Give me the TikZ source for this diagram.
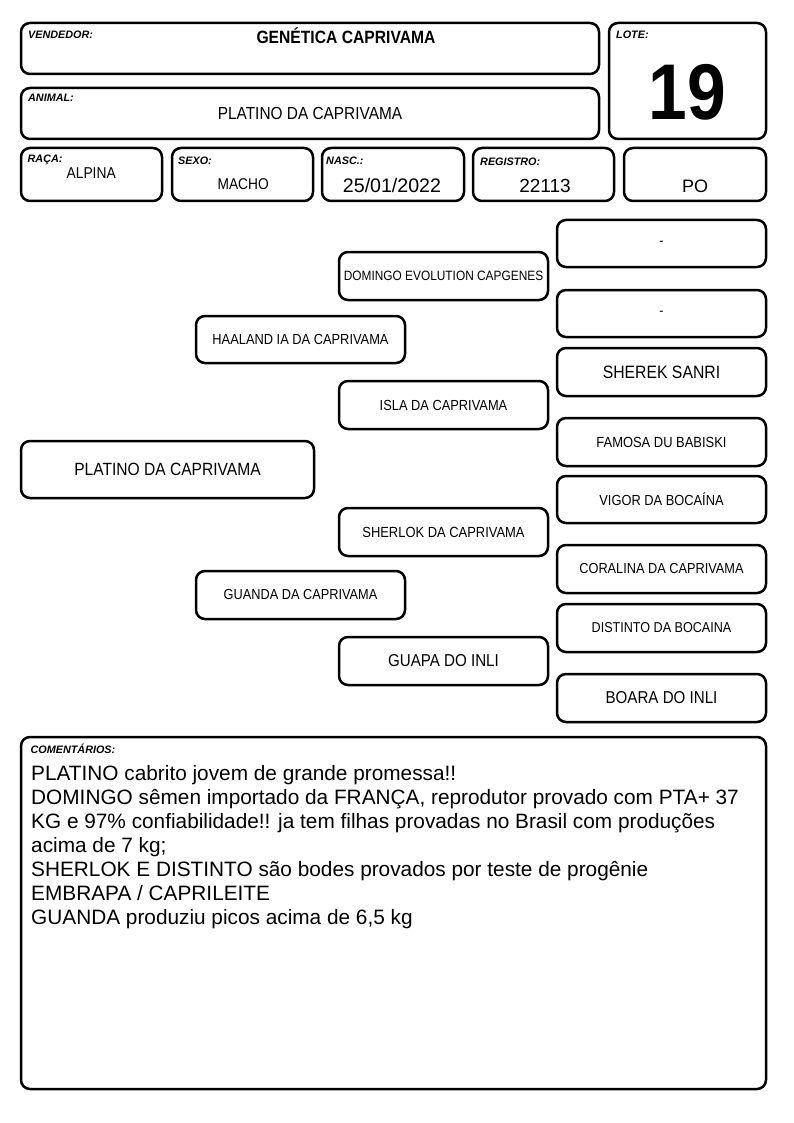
\documentclass[tikz,border=0pt]{standalone}
\usepackage{fontspec}
\setmainfont{Liberation Sans}
\newfontfamily\nf{Liberation Sans}[FakeStretch=0.88]
\newcommand\fs[1]{\fontsize{#1}{#1}\selectfont}
\begin{document}
\begin{tikzpicture}[x=1pt,y=-1pt,
  box/.style={draw, line width=2.5pt, rounded corners=9pt, inner sep=0pt},
  lbl/.style={anchor=base west, inner sep=0pt, font=\fs{10.8}\bfseries\itshape},
  val/.style={anchor=base, inner sep=0pt},
  ped/.style={box, minimum width=209pt, minimum height=48pt},
]
\useasboundingbox (0,0) rectangle (794,1123);

% header boxes
\node[box, minimum width=578pt, minimum height=51pt] (vend) at (310,48.5) {};
\node[box, minimum width=578pt, minimum height=51pt] (anim) at (310,113.5) {};
\node[box, minimum width=157pt, minimum height=116pt] (lote) at (687.5,81) {};
\node[box, minimum width=141pt, minimum height=53pt] (raca) at (91.5,174.5) {};
\node[box, minimum width=141pt, minimum height=53pt] (sexo) at (242.5,174.5) {};
\node[box, minimum width=142pt, minimum height=53pt] (nasc) at (393,174.5) {};
\node[box, minimum width=141pt, minimum height=53pt] (reg) at (543.5,174.5) {};
\node[box, minimum width=142pt, minimum height=53pt] (po) at (695,174.5) {};

% labels
\node[lbl] (lvend) at (28,39) {VENDEDOR:};
\node[lbl] (lanim) at (28,102) {ANIMAL:};
\node[lbl] (llote) at (616,39) {LOTE:};
\node[lbl] (lraca) at (27.5,163) {RAÇA:};
\node[lbl] (lsexo) at (178,165) {SEXO:};
\node[lbl] (lnasc) at (326,165) {NASC.:};
\node[lbl] (lreg) at (480,166) {REGISTRO:};

% values
\node[val, font=\nf\bfseries\fs{17.8}] (vvend) at (346,43.3) {GENÉTICA CAPRIVAMA};
\node[val, font=\nf\fs{17.5}] (vanim) at (310,120) {PLATINO DA CAPRIVAMA};
\node[val, font=\nf\bfseries\fs{79}] (vlote) at (687,119.5) {19};
\node[val, font=\nf\fs{15.7}] (vraca) at (91.2,178.3) {ALPINA};
\node[val, font=\nf\fs{15.6}] (vsexo) at (243.2,189.3) {MACHO};
\node[val, font=\fs{19.6}] (vnasc) at (392,192.7) {25/01/2022};
\node[val, font=\fs{19}] (vreg) at (545,193) {22113};
\node[val, font=\fs{18}] (vpo) at (695,193) {PO};

% pedigree
\node[box, minimum width=293pt, minimum height=57pt, font=\nf\fs{17.7}] (platino) at (167.5,469.5) {PLATINO DA CAPRIVAMA};
\node[ped, minimum height=47pt, font=\nf\fs{14.6}] (haaland) at (300.5,339.5) {HAALAND IA DA CAPRIVAMA};
\node[ped, font=\nf\fs{14.5}] (guanda) at (300.5,595) {GUANDA DA CAPRIVAMA};
\node[ped, font=\nf\fs{13.5}] (domingo) at (443.5,276) {DOMINGO EVOLUTION CAPGENES};
\node[ped, font=\nf\fs{14.6}] (isla) at (443.5,405) {ISLA DA CAPRIVAMA};
\node[ped, font=\nf\fs{14.7}] (sherlok) at (443.5,532) {SHERLOK DA CAPRIVAMA};
\node[ped, font=\nf\fs{17.2}] (guapa) at (443.5,661) {GUAPA DO INLI};
\node[ped, minimum height=47pt, font=\nf\fs{14}] (r1) at (661.5,243.5) {\raisebox{-2pt}{-}};
\node[ped, minimum height=47pt, font=\nf\fs{14}] (r2) at (661.5,313.5) {\raisebox{-2pt}{-}};
\node[ped, font=\nf\fs{17.9}] (sherek) at (661.5,372) {SHEREK SANRI};
\node[ped, font=\nf\fs{14.7}] (famosa) at (661.5,442) {FAMOSA DU BABISKI};
\node[ped, minimum height=47pt, font=\nf\fs{14.6}] (vigor) at (661.5,499.5) {VIGOR DA BOCAÍNA};
\node[ped, font=\nf\fs{14.5}] (coralina) at (661.5,569) {CORALINA DA CAPRIVAMA};
\node[ped, font=\nf\fs{14.3}] (distinto) at (661.5,628) {DISTINTO DA BOCAINA};
\node[ped, font=\nf\fs{17.2}] (boara) at (661.5,698) {BOARA DO INLI};

% comments
\node[box, minimum width=745pt, minimum height=352pt] (com) at (393.5,913) {};
\node[lbl] (lcom) at (30.5,753) {COMENTÁRIOS:};
\node[anchor=north west, inner sep=0pt, align=left, font=\fontsize{20.8}{24}\selectfont] (tcom) at (31,765)
{PLATINO cabrito jovem de grande promessa!!\\
DOMINGO sêmen importado da FRANÇA, reprodutor provado com PTA+ 37\\
KG e 97\% confiabilidade!! ja tem filhas provadas no Brasil com produções\\
acima de 7 kg;\\
SHERLOK E DISTINTO são bodes provados por teste de progênie\\
EMBRAPA / CAPRILEITE\\
GUANDA produziu picos acima de 6,5 kg};
\end{tikzpicture}
\end{document}
